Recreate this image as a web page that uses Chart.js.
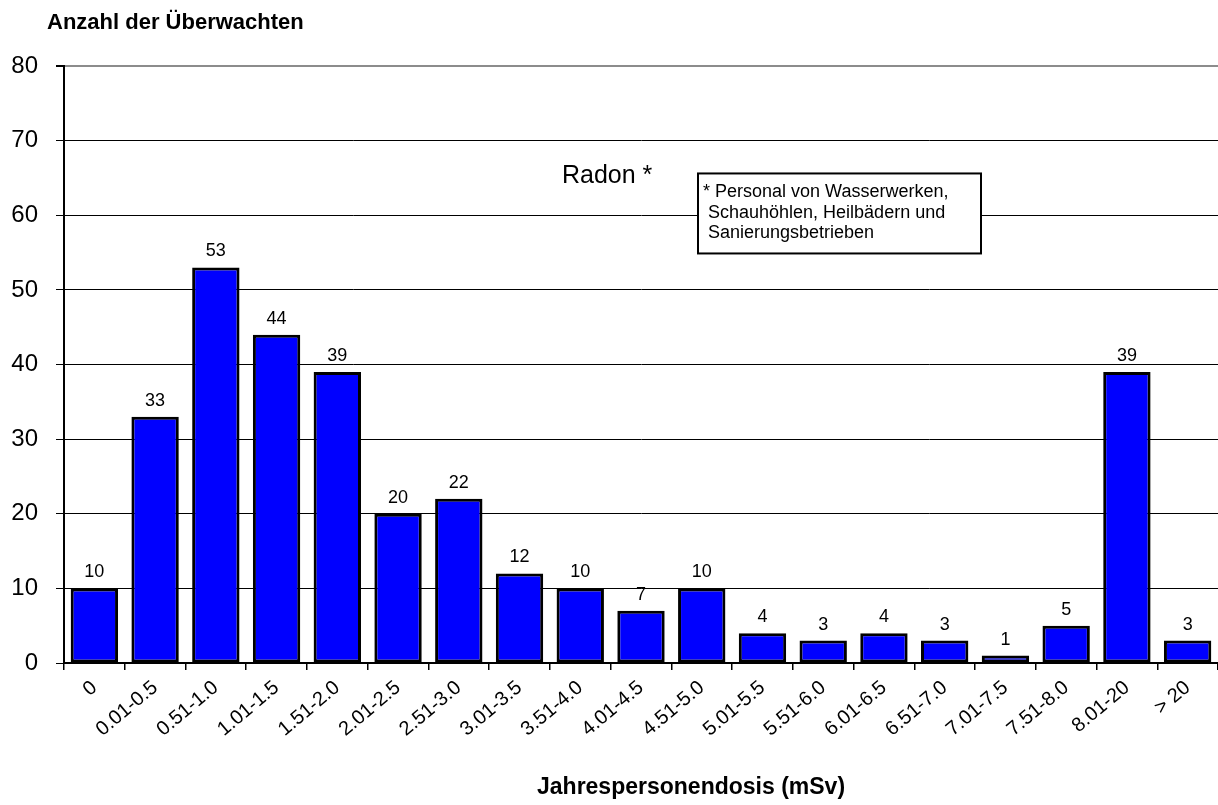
<!DOCTYPE html>
<html>
<head>
<meta charset="utf-8">
<script src="https://cdn.jsdelivr.net/npm/chart.js@4/dist/chart.umd.min.js"></script>
<style>
  html, body { margin: 0; padding: 0; background: #fff; }
  #wrap { width: 1218px; height: 805px; }
</style>
</head>
<body>
<div id="wrap"><canvas id="doseChart" width="1218" height="805"></canvas></div>
<script>
const categories = ['0', '0.01-0.5', '0.51-1.0', '1.01-1.5', '1.51-2.0', '2.01-2.5', '2.51-3.0', '3.01-3.5',
    '3.51-4.0', '4.01-4.5', '4.51-5.0', '5.01-5.5', '5.51-6.0', '6.01-6.5', '6.51-7.0', '7.01-7.5',
    '7.51-8.0', '8.01-20', '> 20'];
const counts = [10, 33, 53, 44, 39, 20, 22, 12, 10, 7, 10, 4, 3, 4, 3, 1, 5, 39, 3];
const yTicks = [0, 10, 20, 30, 40, 50, 60, 70, 80];

const yTitle = 'Anzahl der Überwachten';
const xTitle = 'Jahrespersonendosis (mSv)';
const noteTitle = 'Radon *';
const noteLines = ['* Personal von Wasserwerken,', ' Schauhöhlen, Heilbädern und', ' Sanierungsbetrieben'];

const FONT = 'Arial, "Liberation Sans", sans-serif';

// value labels above bars
const barLabels = {
    id: 'barLabels',
    afterDatasetsDraw(chart) {
        const ctx = chart.ctx;
        const meta = chart.getDatasetMeta(0);
        ctx.save();
        ctx.font = '18px ' + FONT;
        ctx.fillStyle = '#000';
        ctx.textAlign = 'center';
        ctx.textBaseline = 'alphabetic';
        meta.data.forEach((bar, i) => {
            ctx.fillText(String(counts[i]), bar.x, bar.y - 11);
        });
        ctx.restore();
    }
};

// titles and the note box
const extras = {
    id: 'extras',
    afterDraw(chart) {
        const ctx = chart.ctx;
        const area = chart.chartArea;
        const y = chart.scales.y;
        ctx.save();
        ctx.fillStyle = '#000';
        ctx.textAlign = 'left';
        ctx.textBaseline = 'alphabetic';

        ctx.font = 'bold 22px ' + FONT;
        ctx.fillText(yTitle, 47, 29);

        ctx.font = 'bold 23px ' + FONT;
        ctx.fillText(xTitle, area.left + 473, 794);

        ctx.font = '25px ' + FONT;
        ctx.fillText(noteTitle, area.left + 498, y.getPixelForValue(64.3));

        // note box
        const bx = area.left + 634, by = y.getPixelForValue(65.6);
        const bw = 283, bh = 80;
        ctx.fillStyle = '#fff';
        ctx.fillRect(bx, by, bw, bh);
        ctx.strokeStyle = '#000';
        ctx.lineWidth = 2;
        ctx.strokeRect(bx, by, bw, bh);
        ctx.fillStyle = '#000';
        ctx.font = '18px ' + FONT;
        noteLines.forEach((line, i) => {
            ctx.fillText(line, bx + 5, by + 24 + i * 20.5);
        });
        ctx.restore();
    }
};

new Chart(document.getElementById('doseChart'), {
    type: 'bar',
    data: {
        labels: categories,
        datasets: [{
            data: counts,
            backgroundColor: '#0000ff',
            borderColor: '#000',
            borderWidth: 3,
            borderSkipped: false,
            barPercentage: 0.78,
            categoryPercentage: 1.0
        }]
    },
    options: {
        responsive: false,
        animation: false,
        layout: { padding: { top: 66, right: 0, bottom: 0, left: 0 } },
        plugins: {
            legend: { display: false },
            tooltip: { enabled: false }
        },
        scales: {
            x: {
                offset: true,
                grid: {
                    offset: true,
                    drawOnChartArea: false,
                    drawTicks: true,
                    tickLength: 7,
                    color: '#000',
                    lineWidth: 1.5
                },
                border: { color: '#000', width: 2 },
                ticks: {
                    color: '#000',
                    font: { family: FONT, size: 20 },
                    minRotation: 40,
                    maxRotation: 40,
                    autoSkip: false,
                    padding: 6
                },
                afterFit(scale) { scale.height = 142; }
            },
            y: {
                min: 0,
                max: 80,
                afterBuildTicks(scale) { scale.ticks = yTicks.map(v => ({ value: v })); },
                grid: {
                    color: ctx => (ctx.tick && ctx.tick.value === 80) ? '#8c8c8c' : '#000',
                    lineWidth: ctx => (ctx.tick && ctx.tick.value === 80) ? 2 : 1,
                    tickColor: '#000',
                    tickLength: 8,
                    drawTicks: true
                },
                border: { color: '#000', width: 2 },
                ticks: {
                    color: '#000',
                    font: { family: FONT, size: 24 },
                    padding: 18
                },
                afterFit(scale) { scale.width = 64; }
            }
        }
    },
    plugins: [barLabels, extras]
});
</script>
</body>
</html>
